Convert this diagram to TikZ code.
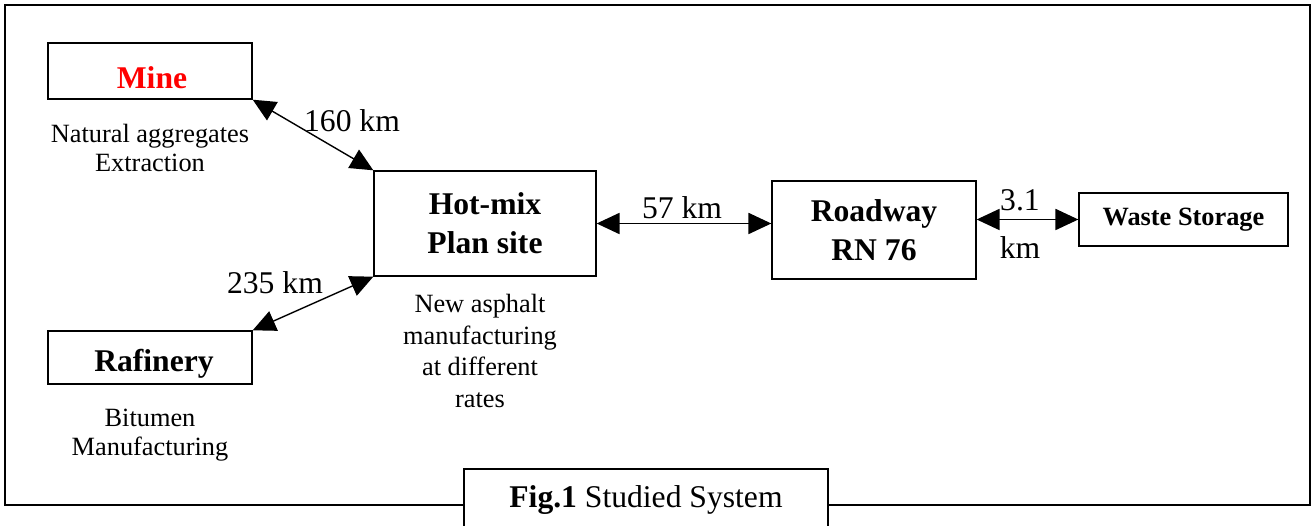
\documentclass[tikz,border=0pt]{standalone}
\usepackage{fontspec}
\setmainfont{Liberation Serif}
\usetikzlibrary{positioning, arrows.meta}

\begin{document}
\begin{tikzpicture}[
    x=0.02cm, y=-0.02cm,
    site/.style={draw=black, line width=0.8pt, fill=white, align=center, inner sep=0pt,
                 font=\fontsize{18}{22}\selectfont\bfseries},
    sitename/.style={align=center, font=\fontsize{18}{22}\selectfont\bfseries},
    note/.style={align=center, font=\fontsize{15}{16.5}\selectfont},
    dist/.style={align=center, font=\fontsize{18}{20}\selectfont},
    link/.style={{Triangle[length=13pt,width=12pt]}-{Triangle[length=13pt,width=12pt]}, line width=0.8pt}
]

% Page size
\useasboundingbox (0,0) rectangle (1312,526);

% Outer frame
\draw[line width=1.1pt] (5,5) rectangle (1310,505);

% Sites
\node[site, minimum width=4.08cm, minimum height=1.12cm] (mine) at (150,71) {};
\node[sitename, text=red] at (152,78) {Mine};
\node[site, minimum width=4.08cm, minimum height=1.06cm] (rafinery) at (150,357.5) {};
\node[sitename] at (154,364) {Rafinery};
\node[site, minimum width=4.44cm, minimum height=2.1cm] (hotmix) at (485,223.5) {Hot-mix\\Plan site};
\node[site, minimum width=4.08cm, minimum height=1.96cm, text depth=0pt] (roadway) at (874,230) {Roadway\\RN 76};
\node[site, minimum width=4.18cm, minimum height=1.06cm, font=\fontsize{15}{18}\selectfont\bfseries]
    (waste) at (1183.5,219.5) {Waste Storage};

% Activities
\node[note] (mineact) at (150,148) {Natural aggregates\\Extraction};
\node[note] (rafact) at (150,435) {Bitumen\\Manufacturing};
\node[note, font=\fontsize{15}{18}\selectfont] (hotact) at (480,351) {New asphalt\\manufacturing\\at different\\rates};

% Transport links
\draw[link] (mine.south east) -- (hotmix.north west);
\draw[link] (rafinery.north east) -- (hotmix.south west);
\draw[link] (hotmix.east) -- (roadway.west |- hotmix.east);
\draw[link] (roadway.east |- waste.west) -- (waste.west);

% Distances
\node[dist] (d1) at (352,121) {160 km};
\node[dist] (d2) at (275,283) {235 km};
\node[dist] (d3) at (682,208) {57 km};
\node[dist, font=\fontsize{18}{27}\selectfont] (d4) at (1020,224) {3.1\\km};

% Caption
\node[draw=black, line width=0.8pt, fill=white, minimum width=7.28cm, minimum height=1.4cm] (caption) at (646,504) {};
\node (captext) at (646,500) {\fontsize{18}{22}\selectfont\textbf{Fig.1} Studied System};

\end{tikzpicture}
\end{document}
